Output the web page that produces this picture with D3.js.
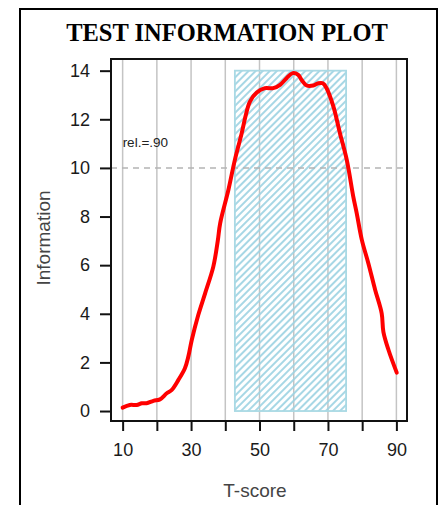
<!DOCTYPE html>
<html lang="en">
<head>
    <meta charset="UTF-8">
    <title>Test Information Plot</title>
    <script src="https://d3js.org/d3.v7.min.js"></script>
    <style>
        body { margin: 0; background: #fff; }
        .tick text { font-family: Arial, "Liberation Sans", sans-serif; font-size: 18px; fill: #1a1a1a; }
    </style>
</head>
<body>
    <script>
        // curve
        const tScores = [10, 12.1, 14.1, 15.6, 17, 19, 20.9, 22.9, 24.3, 26.3, 28.2, 29.2, 30.2, 32.1, 34.1, 36.5, 37.8,
            38.5, 40.9, 42.8, 44.8, 46, 47.2, 49.2, 51.6, 54, 56, 57.9, 59.7, 61.3, 62.3, 63.8, 65.7, 67.2, 68.5, 69.6,
            71.6, 73.5, 75.5, 77.4, 78.4, 79.9, 81.8, 83.8, 85.7, 86.2, 87.7, 90.1];
        const information = [0.14, 0.25, 0.25, 0.32, 0.32, 0.42, 0.48, 0.73, 0.86, 1.28, 1.76, 2.24, 2.92, 3.95, 4.84, 5.94, 7.0,
            7.72, 9.09, 10.33, 11.43, 12.18, 12.73, 13.1, 13.28, 13.28, 13.42, 13.69, 13.9, 13.83, 13.62, 13.39, 13.39, 13.48, 13.48, 13.28,
            12.52, 11.43, 10.33, 8.82, 8.14, 7.04, 6.08, 4.98, 4.02, 3.26, 2.51, 1.58];
        const xTicks = [10, 20, 30, 40, 50, 60, 70, 80, 90];
        const xLabels = [10, 30, 50, 70, 90];
        const yTicks = [0, 2, 4, 6, 8, 10, 12, 14];
        const band = [42.8, 75.3];   // hatched T-score range
        const bandTop = 14;
        const relLevel = 10;

        const W = 445, H = 505;
        const svg = d3.select("body").append("svg")
            .attr("width", W)
            .attr("height", H);

        // outer frame
        svg.append("rect")
            .attr("x", 20).attr("y", 9)
            .attr("width", 417).attr("height", 520)
            .attr("fill", "none").attr("stroke", "#000").attr("stroke-width", 2);

        svg.append("text")
            .attr("x", 227).attr("y", 41)
            .attr("text-anchor", "middle")
            .attr("font-family", "'Liberation Serif', 'Times New Roman', serif")
            .attr("font-weight", "bold")
            .attr("font-size", 24.5)
            .text("TEST INFORMATION PLOT");

        const box = { left: 111, top: 59, right: 407, bottom: 421 };

        const x = d3.scaleLinear().domain([6.6, 93.1]).range([box.left, box.right]);
        const y = d3.scaleLinear().domain([-0.41, 14.48]).range([box.bottom, box.top]);

        const defs = svg.append("defs");
        const pat = defs.append("pattern")
            .attr("id", "hatch")
            .attr("patternUnits", "userSpaceOnUse")
            .attr("width", 5).attr("height", 5)
            .attr("patternTransform", "rotate(45)");
        pat.append("line")
            .attr("x1", 1).attr("y1", 0).attr("x2", 1).attr("y2", 5)
            .attr("stroke", "#9dd3e2").attr("stroke-width", 1.8);

        const clip = defs.append("clipPath").attr("id", "plotclip");
        clip.append("rect")
            .attr("x", box.left).attr("y", box.top)
            .attr("width", box.right - box.left).attr("height", box.bottom - box.top);

        // vertical grid
        svg.append("g").selectAll("line")
            .data(xTicks)
            .join("line")
            .attr("x1", d => x(d)).attr("x2", d => x(d))
            .attr("y1", box.top).attr("y2", box.bottom)
            .attr("stroke", "#c4c4c4").attr("stroke-width", 1.5);

        // hatched band
        svg.append("rect")
            .attr("x", x(band[0])).attr("y", y(bandTop))
            .attr("width", x(band[1]) - x(band[0]))
            .attr("height", y(0) - y(bandTop))
            .attr("fill", "url(#hatch)")
            .attr("stroke", "#a9d9e4").attr("stroke-width", 1.8);

        // reliability line
        svg.append("line")
            .attr("x1", box.left).attr("x2", box.right)
            .attr("y1", y(relLevel)).attr("y2", y(relLevel))
            .attr("stroke", "#b4b4b4").attr("stroke-width", 1.5)
            .attr("stroke-dasharray", "6,5");

        svg.append("text")
            .attr("x", x(10)).attr("y", y(11.1) + 6)
            .attr("font-family", "Arial, 'Liberation Sans', sans-serif")
            .attr("font-size", 13.5)
            .attr("fill", "#222")
            .text("rel.=.90");

        // information curve
        const pts = tScores.map((t, i) => [t, information[i]]);
        svg.append("path")
            .datum(pts)
            .attr("clip-path", "url(#plotclip)")
            .attr("fill", "none")
            .attr("stroke", "#ff0000")
            .attr("stroke-width", 4)
            .attr("stroke-linejoin", "round")
            .attr("stroke-linecap", "round")
            .attr("d", d3.line().x(d => x(d[0])).y(d => y(d[1])).curve(d3.curveCatmullRom));

        // plot box
        svg.append("rect")
            .attr("x", box.left).attr("y", box.top)
            .attr("width", box.right - box.left).attr("height", box.bottom - box.top)
            .attr("fill", "none").attr("stroke", "#111").attr("stroke-width", 2);

        // axes
        const xAxis = svg.append("g")
            .attr("transform", `translate(0,${box.bottom})`)
            .call(d3.axisBottom(x).tickValues(xTicks)
                .tickFormat(d => xLabels.includes(d) ? d : "")
                .tickSize(10).tickSizeOuter(0).tickPadding(12));
        xAxis.select(".domain").remove();
        xAxis.selectAll(".tick line").attr("stroke", "#111").attr("stroke-width", 2);

        const yAxis = svg.append("g")
            .attr("transform", `translate(${box.left},0)`)
            .call(d3.axisLeft(y).tickValues(yTicks).tickSize(11).tickSizeOuter(0).tickPadding(10));
        yAxis.select(".domain").remove();
        yAxis.selectAll(".tick line").attr("stroke", "#111").attr("stroke-width", 2);

        svg.append("text")
            .attr("x", 255).attr("y", 497)
            .attr("text-anchor", "middle")
            .attr("font-family", "Arial, 'Liberation Sans', sans-serif")
            .attr("font-size", 19)
            .attr("fill", "#444")
            .text("T-score");

        svg.append("text")
            .attr("transform", "translate(50,238) rotate(-90)")
            .attr("text-anchor", "middle")
            .attr("font-family", "Arial, 'Liberation Sans', sans-serif")
            .attr("font-size", 19)
            .attr("fill", "#444")
            .text("Information");
    </script>
</body>
</html>
